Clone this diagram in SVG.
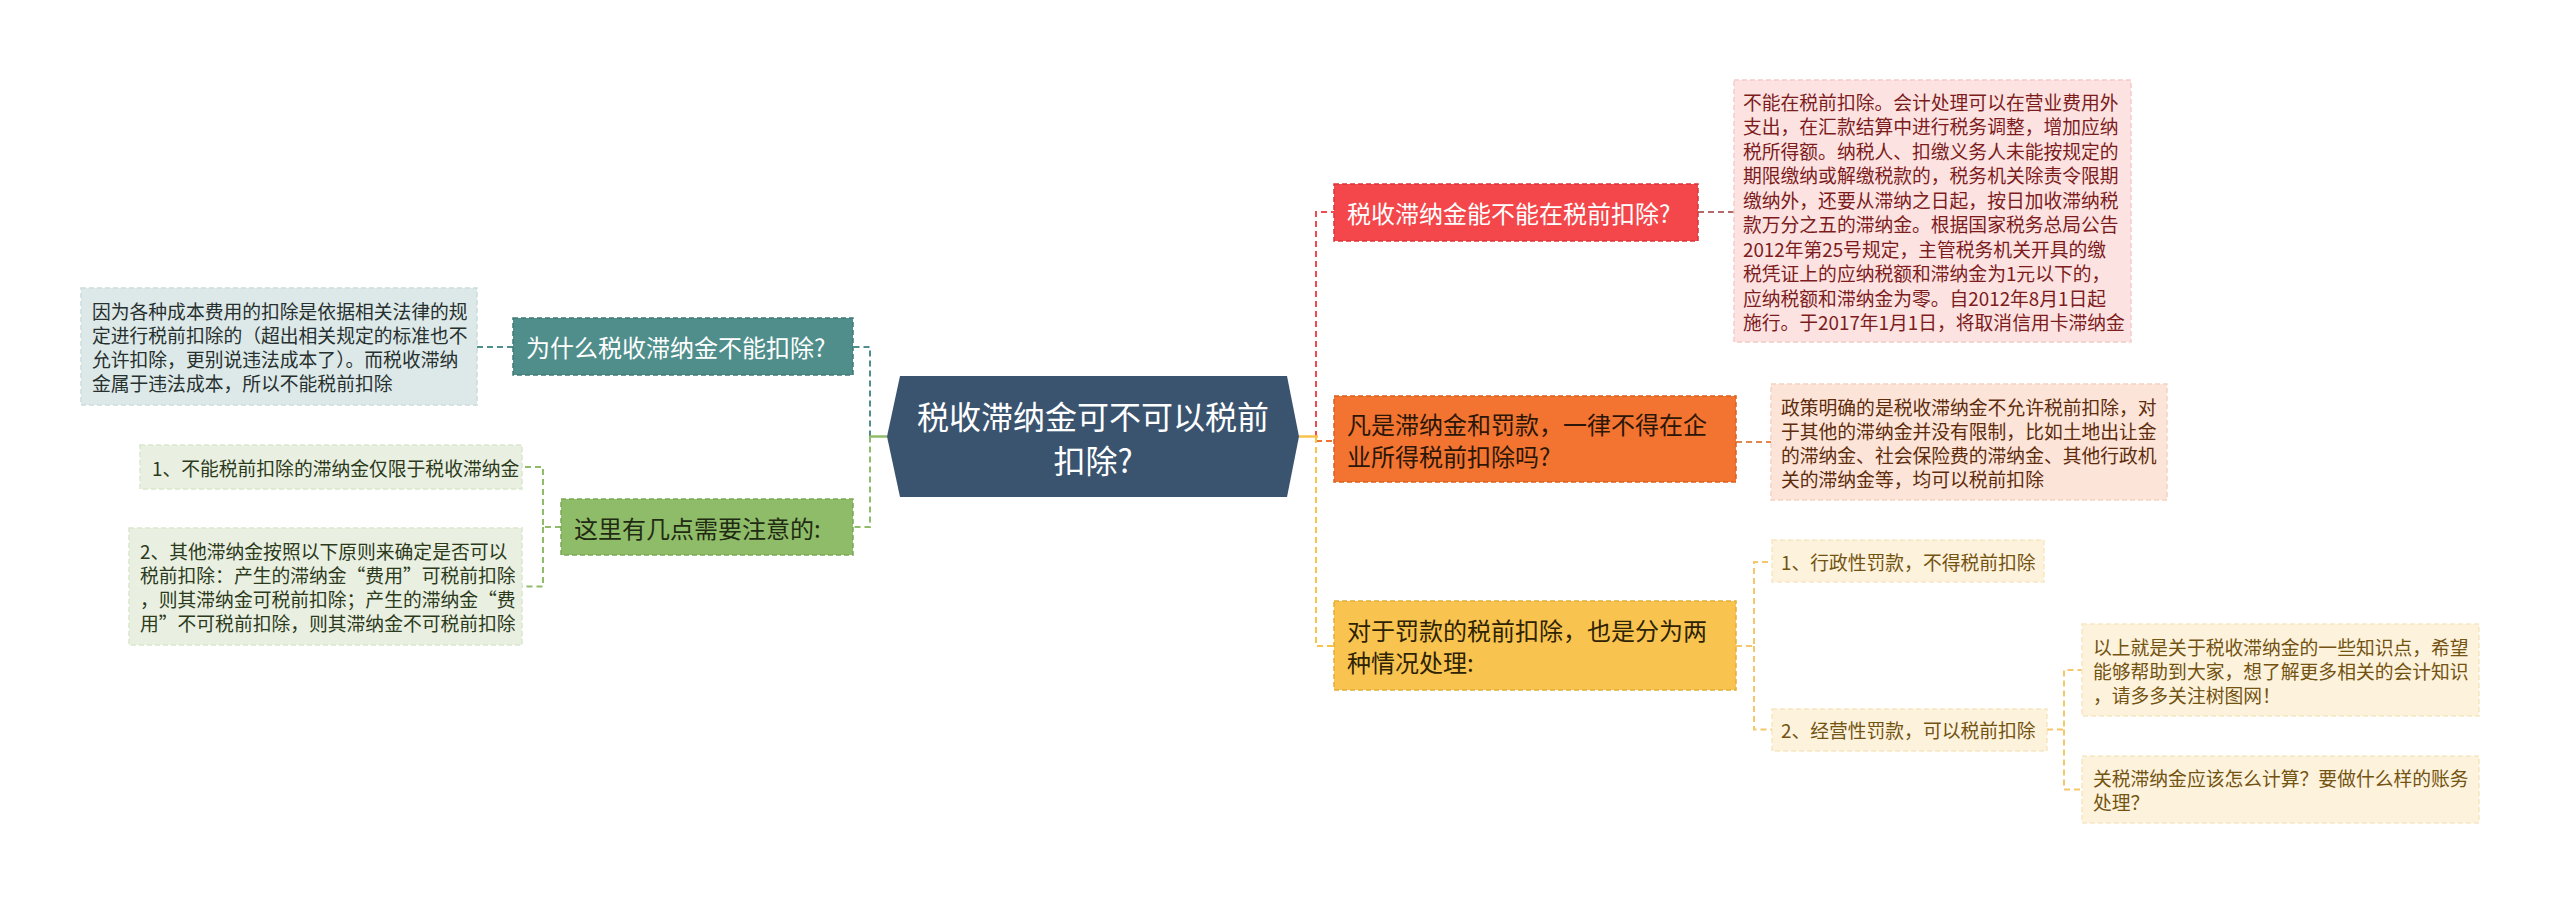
<svg xmlns="http://www.w3.org/2000/svg" width="2560" height="905" viewBox="0 0 2560 905">
<style>
text{font-family:"Noto Sans CJK SC","Noto Sans",sans-serif;dominant-baseline:central}
.t24{font-size:24px}
.t19{font-size:18.8px}
.c{fill:none;stroke-width:2;stroke-dasharray:6 4}
.box{stroke-width:1.5;stroke-dasharray:5 3}
</style>
<rect width="2560" height="905" fill="#ffffff"/>
<g id="connectors">
  <path class="c" stroke="#4f8e8b" d="M870,436.5 V347 H853"/>
  <path class="c" stroke="#8fbc69" d="M870,436.5 V527 H853"/>
  <path d="M887,436.5 H870" stroke="#8fbc69" stroke-width="2.5" fill="none"/>
  <path class="c" stroke="#4f8e8b" d="M513,347 H477"/>
  <path class="c" stroke="#8fbc69" d="M561,527 H543 V467 H522"/>
  <path class="c" stroke="#8fbc69" d="M543,527 V586.5 H522"/>
  <path class="c" stroke="#f24a4e" d="M1316,437 V212 H1334"/>
  <path class="c" stroke="#f07330" d="M1316,441 H1334"/>
  <path class="c" stroke="#f7c34d" d="M1316,437 V646 H1334"/>
  <path d="M1299,436.5 H1318" stroke="#f7c34d" stroke-width="2.5" fill="none"/>
  <path class="c" stroke="#b26a6a" d="M1698,212 H1734"/>
  <path class="c" stroke="#e0884f" d="M1736,442 H1771"/>
  <path class="c" stroke="#f3c76a" d="M1736,646 H1754 V562 H1772"/>
  <path class="c" stroke="#f3c76a" d="M1754,646 V729.5 H1772"/>
  <path class="c" stroke="#f3c76a" d="M2047,729.5 H2064 V670 H2082"/>
  <path class="c" stroke="#f3c76a" d="M2064,729.5 V789.5 H2082"/>
</g>
<g id="center">
  <polygon points="900,376 1287,376 1299,436.5 1287,497 900,497 887,436.5" fill="#3a546f"/>
  <text x="1093" y="415" font-size="32" fill="#ffffff" text-anchor="middle">税收滞纳金可不可以税前</text>
  <text x="1093" y="459" font-size="32" fill="#ffffff" text-anchor="middle">扣除?</text>
</g>
<g id="n-red">
  <rect class="box" x="1334" y="184" width="364" height="57" fill="#f4474b" stroke="#d8363a"/>
  <text class="t24" x="1347" y="212" fill="#ffffff">税收滞纳金能不能在税前扣除?</text>
</g>
<g id="n-red-child">
  <rect class="box" x="1734" y="80" width="397" height="262" fill="#fde2e2" stroke="#f6caca"/>
  <g class="t19" fill="#7c1c1c">
    <text x="1743" y="101">不能在税前扣除。会计处理可以在营业费用外</text>
    <text x="1743" y="125.5">支出，在汇款结算中进行税务调整，增加应纳</text>
    <text x="1743" y="150">税所得额。纳税人、扣缴义务人未能按规定的</text>
    <text x="1743" y="174.5">期限缴纳或解缴税款的，税务机关除责令限期</text>
    <text x="1743" y="199">缴纳外，还要从滞纳之日起，按日加收滞纳税</text>
    <text x="1743" y="223.5">款万分之五的滞纳金。根据国家税务总局公告</text>
    <text x="1743" y="248">2012年第25号规定，主管税务机关开具的缴</text>
    <text x="1743" y="272.5">税凭证上的应纳税额和滞纳金为1元以下的，</text>
    <text x="1743" y="297">应纳税额和滞纳金为零。自2012年8月1日起</text>
    <text x="1743" y="321.5">施行。于2017年1月1日，将取消信用卡滞纳金</text>
  </g>
</g>
<g id="n-orange">
  <rect class="box" x="1334" y="396" width="402" height="86" fill="#f27430" stroke="#d9601f"/>
  <text class="t24" x="1347" y="423" fill="#2b1608">凡是滞纳金和罚款，一律不得在企</text>
  <text class="t24" x="1347" y="455" fill="#2b1608">业所得税前扣除吗?</text>
</g>
<g id="n-orange-child">
  <rect class="box" x="1771" y="384" width="396" height="116" fill="#fce4d8" stroke="#f5d2c0"/>
  <g class="t19" fill="#5e2c0c">
    <text x="1781" y="406">政策明确的是税收滞纳金不允许税前扣除，对</text>
    <text x="1781" y="430">于其他的滞纳金并没有限制，比如土地出让金</text>
    <text x="1781" y="454">的滞纳金、社会保险费的滞纳金、其他行政机</text>
    <text x="1781" y="478">关的滞纳金等，均可以税前扣除</text>
  </g>
</g>
<g id="n-yellow">
  <rect class="box" x="1334" y="601" width="402" height="89" fill="#f8c44f" stroke="#e3ad37"/>
  <text class="t24" x="1347" y="629.5" fill="#2e2204">对于罚款的税前扣除，也是分为两</text>
  <text class="t24" x="1347" y="661.5" fill="#2e2204">种情况处理:</text>
</g>
<g id="n-yellow-c1">
  <rect class="box" x="1772" y="540" width="272" height="42" fill="#fdf2dc" stroke="#f6e6c2"/>
  <text class="t19" x="1781" y="561" fill="#735311">1、行政性罚款，不得税前扣除</text>
</g>
<g id="n-yellow-c2">
  <rect class="box" x="1772" y="709" width="275" height="42" fill="#fdf2dc" stroke="#f6e6c2"/>
  <text class="t19" x="1781" y="729.5" fill="#735311">2、经营性罚款，可以税前扣除</text>
</g>
<g id="n-sub-a">
  <rect class="box" x="2082" y="624" width="397" height="92" fill="#fdf2dc" stroke="#f6e6c2"/>
  <g class="t19" fill="#735311">
    <text x="2093" y="646">以上就是关于税收滞纳金的一些知识点，希望</text>
    <text x="2093" y="670">能够帮助到大家，想了解更多相关的会计知识</text>
    <text x="2093" y="694">，请多多关注树图网！</text>
  </g>
</g>
<g id="n-sub-b">
  <rect class="box" x="2082" y="756" width="397" height="67" fill="#fdf2dc" stroke="#f6e6c2"/>
  <g class="t19" fill="#735311">
    <text x="2093" y="777.5">关税滞纳金应该怎么计算？要做什么样的账务</text>
    <text x="2093" y="801.5">处理？</text>
  </g>
</g>
<g id="n-teal">
  <rect class="box" x="513" y="318" width="340" height="57" fill="#4f8e8b" stroke="#3f7a77"/>
  <text class="t24" x="526" y="346.5" fill="#ffffff">为什么税收滞纳金不能扣除?</text>
</g>
<g id="n-teal-child">
  <rect class="box" x="81" y="288" width="396" height="117" fill="#dde8e8" stroke="#cbdcdc"/>
  <g class="t19" fill="#26302f">
    <text x="92" y="310.5">因为各种成本费用的扣除是依据相关法律的规</text>
    <text x="92" y="334.5">定进行税前扣除的（超出相关规定的标准也不</text>
    <text x="92" y="358.5">允许扣除，更别说违法成本了）。而税收滞纳</text>
    <text x="92" y="382.5">金属于违法成本，所以不能税前扣除</text>
  </g>
</g>
<g id="n-green">
  <rect class="box" x="561" y="499" width="292" height="56" fill="#8fbc69" stroke="#7aa955"/>
  <text class="t24" x="574" y="527" fill="#1f2b12">这里有几点需要注意的:</text>
</g>
<g id="n-green-c1">
  <rect class="box" x="140" y="445" width="382" height="44" fill="#e9f0e1" stroke="#d9e6cc"/>
  <text class="t19" x="152" y="467" fill="#2c3a1c">1、不能税前扣除的滞纳金仅限于税收滞纳金</text>
</g>
<g id="n-green-c2">
  <rect class="box" x="129" y="528" width="393" height="117" fill="#e9f0e1" stroke="#d9e6cc"/>
  <g class="t19" fill="#2c3a1c">
    <text x="140" y="550.5">2、其他滞纳金按照以下原则来确定是否可以</text>
    <text x="140" y="574.5">税前扣除：产生的滞纳金“费用”可税前扣除</text>
    <text x="140" y="598.5">，则其滞纳金可税前扣除；产生的滞纳金“费</text>
    <text x="140" y="622.5">用”不可税前扣除，则其滞纳金不可税前扣除</text>
  </g>
</g>
</svg>
